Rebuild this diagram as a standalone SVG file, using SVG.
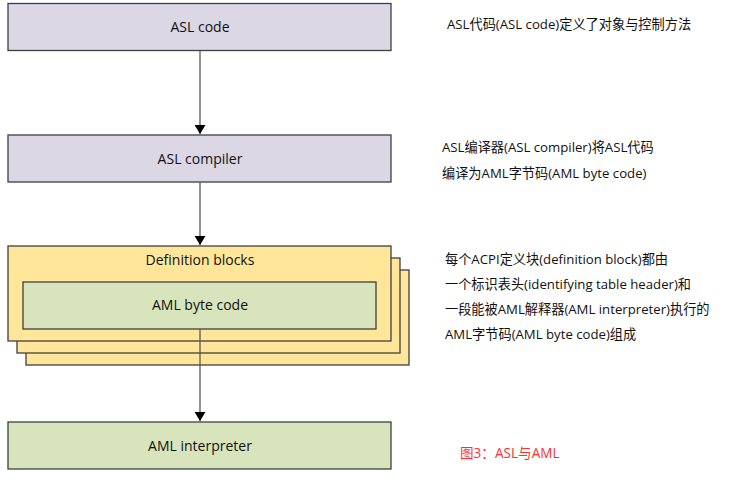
<svg xmlns="http://www.w3.org/2000/svg" width="733" height="486" viewBox="0 0 733 486">
<defs>
<style>
.box{stroke:#3f3f3f;stroke-width:1.3}
.p{fill:#dcd7e5}
.y{fill:#ffe699}
.g{fill:#d8e4bc}
.t{font-family:"Open Sans","Noto Sans",sans-serif;font-size:14px;fill:#111;text-anchor:middle}
.n{font-family:"Open Sans","Noto Sans CJK SC",sans-serif;font-size:13.2px;fill:#111}
.c{stroke:#595959;stroke-width:1.3;fill:none}
</style>
<marker id="ah" markerWidth="9" markerHeight="11" refX="9" refY="5.5" orient="auto" markerUnits="userSpaceOnUse">
<path d="M0,0 L9,5.5 L0,11 z" fill="#000"/>
</marker>
</defs>
<rect width="733" height="486" fill="#fff"/>
<g id="connectors">
<line class="c" x1="200" y1="51" x2="200" y2="134" marker-end="url(#ah)"/>
<line class="c" x1="200" y1="182" x2="200" y2="245" marker-end="url(#ah)"/>
<line class="c" x1="200" y1="329" x2="200" y2="421" marker-end="url(#ah)"/>
</g>
<g id="asl-code">
<rect class="box p" x="8" y="3.5" width="383" height="47"/>
<text class="t" x="200" y="32">ASL code</text>
</g>
<g id="asl-compiler">
<rect class="box p" x="8" y="135" width="383" height="47"/>
<text class="t" x="200" y="164">ASL compiler</text>
</g>
<g id="definition-blocks">
<rect class="box y" x="26" y="270" width="383" height="95"/>
<rect class="box y" x="17" y="258" width="383" height="95"/>
<rect class="box y" x="8" y="246" width="383" height="95"/>
<text class="t" x="200" y="265">Definition blocks</text>
</g>
<g id="aml-byte-code">
<rect class="box g" x="23" y="282" width="353" height="47"/>
<text class="t" x="200" y="310">AML byte code</text>
</g>
<g id="connector-overlay">
<line class="c" x1="200" y1="329" x2="200" y2="365"/>
</g>
<g id="aml-interpreter">
<rect class="box g" x="8" y="422" width="383" height="47"/>
<text class="t" x="200" y="451">AML interpreter</text>
</g>
<g id="notes">
<text class="n" x="447" y="29">ASL代码(ASL code)定义了对象与控制方法</text>
<text class="n" x="442" y="152">ASL编译器(ASL compiler)将ASL代码</text>
<text class="n" x="442" y="178">编译为AML字节码(AML byte code)</text>
<text class="n" x="445" y="264">每个ACPI定义块(definition block)都由</text>
<text class="n" x="445" y="289">一个标识表头(identifying table header)和</text>
<text class="n" x="445" y="314">一段能被AML解释器(AML interpreter)执行的</text>
<text class="n" x="445" y="339">AML字节码(AML byte code)组成</text>
<text class="n" x="460" y="458" style="fill:#ff3030;font-size:13.6px">图3：ASL与AML</text>
</g>
</svg>
